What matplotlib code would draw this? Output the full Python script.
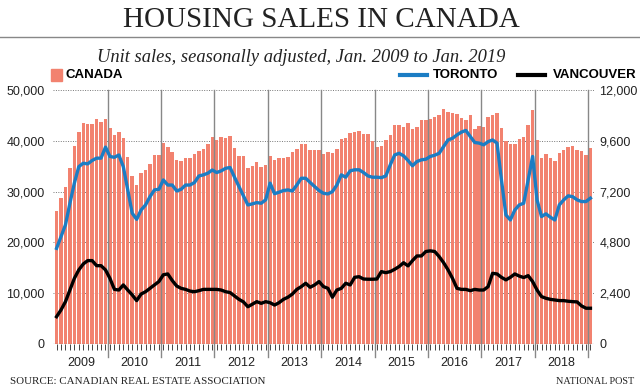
import matplotlib
matplotlib.use('Agg')
import matplotlib.pyplot as plt
import matplotlib.transforms as mtrans
from matplotlib.lines import Line2D
from matplotlib.patches import Rectangle

# monthly values, Jan 2009 .. Jan 2019
canada = [26200, 28800, 30900, 34700, 38900, 41800, 43500, 43300, 43300, 44300, 43700, 44200,
          42600, 41200, 41700, 40600, 36800, 33100, 31300, 33600, 34300, 35500, 37200, 37200,
          39500, 38700, 37800, 36200, 36000, 36600, 36600, 37400, 38000, 38400, 39400, 40700,
          40200, 40700, 40500, 41000, 38500, 37000, 37000, 34600, 35000, 35800, 34900, 35300,
          37000, 36200, 36700, 36600, 36900, 37800, 38300, 39300, 39300, 38200, 38100, 38100,
          37500, 37800, 37600, 38300, 40300, 40500, 41600, 41800, 42000, 41300, 41300, 39900,
          38700, 38900, 40200, 41200, 43100, 43100, 42800, 43500, 42400, 42700, 44000, 44000,
          44300, 44600, 45100, 46200, 45600, 45400, 45300, 44500, 44000, 45100, 42300, 42900,
          42800, 44600, 45100, 45400, 42600, 39900, 39400, 39400, 40300, 40800, 43100, 46000,
          40100, 36600, 37400, 36600, 36000, 37600, 38200, 38700, 38900, 38200, 37900, 37200,
          38500]
toronto = [4520, 5070, 5630, 6650, 7600, 8380, 8540, 8510, 8670, 8780, 8780, 9300,
           8860, 8820, 8930, 8380, 7280, 6180, 5890, 6330, 6570, 6960, 7280, 7310,
           7750, 7510, 7510, 7230, 7310, 7510, 7510, 7630, 7940, 7990, 8070, 8220,
           8100, 8180, 8300, 8340, 7880, 7440, 7000, 6570, 6620, 6680, 6650, 6810,
           7600, 7100, 7170, 7250, 7280, 7230, 7510, 7830, 7830, 7630, 7440, 7250,
           7120, 7090, 7200, 7510, 7990, 7880, 8180, 8230, 8230, 8100, 7940, 7880,
           7880, 7860, 7940, 8460, 8930, 9010, 8890, 8670, 8420, 8620, 8700, 8730,
           8860, 8920, 9010, 9330, 9640, 9720, 9880, 10010, 10090, 9800, 9520, 9490,
           9410, 9560, 9640, 9490, 7750, 6100, 5860, 6330, 6570, 6650, 7750, 8860,
           6810, 6020, 6150, 5990, 5860, 6570, 6810, 7000, 6960, 6810, 6730, 6730,
           6890]
vancouver = [1290, 1610, 2000, 2550, 3100, 3500, 3780, 3940, 3940, 3700, 3700, 3500,
             3100, 2580, 2550, 2790, 2550, 2320, 2050, 2360, 2470, 2630, 2790, 2950,
             3270, 3310, 3000, 2740, 2630, 2580, 2500, 2470, 2520, 2580, 2580, 2580,
             2580, 2550, 2470, 2430, 2270, 2110, 1990, 1760, 1880, 2000, 1920, 2000,
             1950, 1840, 1950, 2110, 2210, 2360, 2580, 2710, 2870, 2680, 2790, 2950,
             2710, 2630, 2210, 2550, 2630, 2870, 2790, 3150, 3180, 3070, 3060, 3060,
             3070, 3420, 3370, 3420, 3530, 3660, 3840, 3690, 3940, 4160, 4160, 4370,
             4400, 4370, 4130, 3840, 3500, 3100, 2630, 2580, 2580, 2520, 2580, 2550,
             2550, 2710, 3340, 3310, 3150, 3030, 3150, 3310, 3210, 3140, 3230, 2950,
             2550, 2240, 2160, 2110, 2080, 2050, 2050, 2020, 2000, 1990, 1800, 1690,
             1690]
years = ['2009', '2010', '2011', '2012', '2013', '2014', '2015', '2016', '2017', '2018']
left_ticks = [0, 10000, 20000, 30000, 40000, 50000]
right_ticks = [0, 2400, 4800, 7200, 9600, 12000]

bar_color = '#f2826f'
blue = '#1b7dc4'
sans = ['Liberation Sans', 'DejaVu Sans']
serif = ['Liberation Serif', 'DejaVu Serif']

fig = plt.figure(figsize=(6.4, 3.92), dpi=100)
ax = fig.add_axes([53/640, 48/392, 541/640, 254/392])
ax2 = ax.twinx()

months = list(range(len(canada)))
ax.bar(months, canada, width=0.78, color=bar_color, zorder=2)
ax2.plot(months, toronto, color=blue, lw=2.4, solid_joinstyle='round', zorder=3)
ax2.plot(months, vancouver, color='black', lw=2.4, solid_joinstyle='round', zorder=3)

ax.set_xlim(-0.8, 120.8)
ax.set_ylim(0, 50000)
ax2.set_ylim(0, 12000)

for v in left_ticks[1:]:
    ax.axhline(v, color='#777777', lw=0.7, ls=(0, (1, 1.5)), zorder=1)
ax.axhline(0, color='#555555', lw=0.8, zorder=3)

# year separators
trans = mtrans.blended_transform_factory(ax.transData, ax.transAxes)
for i in range(1, len(years) + 1):
    xb = i * 12 - 0.5
    ax.plot([xb, xb], [1.0, -0.05], transform=trans, color='#888888', lw=1,
            clip_on=False, zorder=4)

ax.set_yticks(left_ticks)
ax.set_yticklabels([f'{v:,}' for v in left_ticks])
ax2.set_yticks(right_ticks)
ax2.set_yticklabels([f'{v:,}' for v in right_ticks])
ax.tick_params(axis='y', length=0, pad=6, labelsize=9, labelcolor='#222222')
ax2.tick_params(axis='y', length=0, pad=4, labelsize=9, labelcolor='#222222')

ax.set_xticks([i * 12 + 5.5 for i in range(len(years))])
ax.set_xticklabels(years)
ax.set_xticks(months, minor=True)
ax.tick_params(axis='x', which='major', length=0, pad=9, labelsize=9, labelcolor='#222222')
ax.tick_params(axis='x', which='minor', length=4.5, width=0.7, color='#444444')
for lab in ax.get_xticklabels() + ax.get_yticklabels() + ax2.get_yticklabels():
    lab.set_family(sans)

for a in (ax, ax2):
    for s in a.spines.values():
        s.set_visible(False)

# titles
fig.text(321/640, 1 - 20/392, 'HOUSING SALES IN CANADA', ha='center', va='center',
         fontsize=21, family=serif, color='#222222')
fig.add_artist(Line2D([0, 1], [1 - 37/392, 1 - 37/392], color='#888888', lw=1))
fig.text(301/640, 1 - 58/392, 'Unit sales, seasonally adjusted, Jan. 2009 to Jan. 2019',
         ha='center', va='center', fontsize=13.3, style='italic', family=serif, color='#222222')

# legend
ly = 1 - 75/392
fig.add_artist(Rectangle((51/640, ly - 6/392), 11/640, 12/392, color=bar_color))
fig.text(66/640, ly, 'CANADA', ha='left', va='center', fontsize=9.5, weight='bold', family=sans)
fig.add_artist(Line2D([400/640, 427/640], [ly, ly], color=blue, lw=3))
fig.text(433/640, ly, 'TORONTO', ha='left', va='center', fontsize=9.5, weight='bold', family=sans)
fig.add_artist(Line2D([518/640, 545/640], [ly, ly], color='black', lw=3))
fig.text(553/640, ly, 'VANCOUVER', ha='left', va='center', fontsize=9.5, weight='bold', family=sans)

fig.text(10/640, 1 - 382/392, 'SOURCE: CANADIAN REAL ESTATE ASSOCIATION', ha='left', va='center',
         fontsize=7.9, family=serif, color='#222222')
fig.text(634/640, 1 - 382/392, 'NATIONAL POST', ha='right', va='center',
         fontsize=7.3, family=serif, color='#222222')

fig.savefig('out.png', dpi=100)
